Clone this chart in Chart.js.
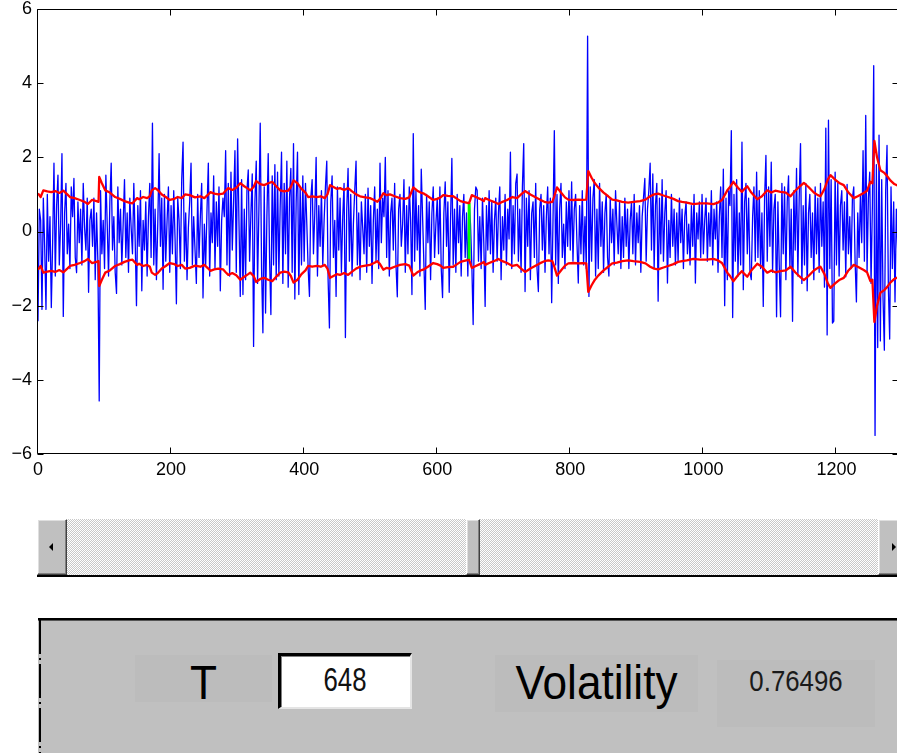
<!DOCTYPE html>
<html>
<head>
<meta charset="utf-8">
<script src="https://cdn.jsdelivr.net/npm/chart.js@4.4.0/dist/chart.umd.min.js"></script>
<style>
  html, body { margin:0; padding:0; width:897px; height:753px; overflow:hidden; background:#fff; }
  #wrap { position:absolute; left:0; top:0; width:897px; height:753px; overflow:hidden; }
  #plot { position:absolute; left:0; top:0; }
  .abs { position:absolute; box-sizing:border-box; }
  #scroll { left:37px; top:519px; width:880px; height:58px;
    background: repeating-conic-gradient(#c8c8c8 0 25%, #ffffff 0 50%) 0 0 / 2px 2px;
    border-bottom:2px solid #000; }
  .btn { position:absolute; top:0; height:56px; background:#c0c0c0;
    border-top:1px solid #fff; border-left:1px solid #fff; border-right:1px solid #404040; border-bottom:1px solid #404040;
    box-sizing:border-box; box-shadow: inset -1px -1px 0 #808080, inset 1px 1px 0 #dfdfdf; }
  .tri { position:absolute; width:0; height:0; }
  #panel { left:38px; top:618px; width:880px; height:140px; background:#c0c0c0;
    border-top:2px solid #000; box-shadow: inset 0 1px 0 #555; }
  #pleft { left:39px; top:620px; width:2px; height:133px;
    background: repeating-linear-gradient(to bottom, #000 0 34px, transparent 34px 38px, #000 38px 40px, transparent 40px 44px); }
  .lbox { background:#bcbcbc; }
  .txt { position:absolute; white-space:nowrap; font-family:"Liberation Sans", Arial, sans-serif; color:#000; }
</style>
</head>
<body>
<div id="wrap">
  <canvas id="plot" width="910" height="490"></canvas>

  <div id="scroll" class="abs">
    <div class="btn" style="left:0; width:30px;"><div class="tri" style="left:11px; top:23px; border-top:4px solid transparent; border-bottom:4px solid transparent; border-right:4px solid #000;"></div></div>
    <div class="btn" style="left:429px; width:14px;"></div>
    <div class="btn" style="left:841px; width:30px;"><div class="tri" style="left:13px; top:23px; border-top:4px solid transparent; border-bottom:4px solid transparent; border-left:4px solid #000;"></div></div>
  </div>

  <div id="panel" class="abs"></div>
  <div id="pleft" class="abs"></div>

  <div class="abs lbox" style="left:135px; top:655px; width:137px; height:47px;"></div>
  <div class="txt" id="tLabel" style="left:135px; width:137px; text-align:center; top:659px; font-size:48px; line-height:48px; transform:scaleX(0.92);">T</div>

  <div class="abs" style="left:278px; top:653px; width:134px; height:56px; background:#fff;
       border-top:3px solid #000; border-left:3px solid #000; border-right:2px solid #e4e4e4; border-bottom:2px solid #e4e4e4;
       box-shadow: inset 1px 1px 0 #808080;"></div>
  <div class="txt" id="tValue" style="left:278px; width:134px; text-align:center; top:663px; font-size:33px; line-height:33px; color:#111; transform:scaleX(0.78);"></div>

  <div class="abs lbox" style="left:495px; top:655px; width:203px; height:57px;"></div>
  <div class="txt" style="left:495px; width:203px; text-align:center; top:659px; font-size:48px; line-height:48px; transform:scaleX(0.92);">Volatility</div>

  <div class="abs lbox" style="left:717px; top:660px; width:158px; height:67px;"></div>
  <div class="txt" id="volValue" style="left:717px; width:158px; text-align:center; top:666px; font-size:30px; line-height:30px; color:#1a1a1a; transform:scaleX(0.86);"></div>
</div>

<script>
// ---------------- data ----------------
const tStep = 2;               // sample spacing of the return series
const returns = [
 -2.42,0.6,0.3,-2.1,0.9,-0.4,-2.1,1.0,-0.8,0.4,-2.05,-0.3,1.84,-1.2,0.7,1.52,-0.9,0.2,2.1,-2.29,
 0.5,1.3,-0.6,0.2,-1.0,1.2,0.4,1.43,-0.7,-1.11,0.8,-0.3,0.6,-0.9,1.3,0.1,-0.5,0.9,-1.64,0.3,
 0.6,-0.4,0.9,-1.3,0.5,-0.8,-4.57,1.1,-0.6,0.3,-1.0,1.52,0.2,-1.2,0.8,1.84,-0.5,0.4,-1.1,-1.67,
 1.2,-0.3,0.6,-0.9,0.2,1.4,-0.7,0.5,-1.1,0.9,0.1,-0.6,1.3,-0.2,-2.0,0.7,-0.4,1.1,-1.6,0.3,
 -0.5,0.8,-1.2,0.4,1.3,-0.7,2.92,-0.9,0.6,-1.3,0.2,2.1,-0.4,0.9,-1.56,1.0,-0.8,0.3,1.2,-1.1,
 0.7,-0.6,1.1,-0.2,-1.95,0.9,0.3,-1.0,1.4,2.41,-0.8,0.5,-1.3,0.1,0.8,1.84,-0.9,0.4,-0.5,-1.4,
 1.0,-0.7,0.4,1.3,-1.79,0.2,-0.9,0.6,1.84,-1.2,0.5,-0.3,1.5,-1.0,0.8,-0.4,1.2,-1.6,0.3,0.9,
 0.4,2.18,-0.9,1.3,-1.2,1.6,-0.5,0.8,2.18,-1.1,2.5,0.3,-1.75,1.4,-1.7,0.6,-1.3,1.1,1.66,-0.8,
 0.5,1.55,-3.1,0.8,1.9,-1.4,0.6,2.92,-1.0,-2.73,1.2,-2.2,0.4,2.1,-0.7,-2.24,1.5,-0.9,1.8,-1.3,
 1.6,-1.2,0.7,2.14,-1.4,1.3,-0.6,1.9,-1.5,0.9,1.7,-1.1,2.37,-1.82,0.8,2.14,-1.7,1.2,-0.9,1.5,
 -0.8,1.3,0.2,-1.0,-1.75,0.9,1.4,-0.6,0.5,2.0,-1.2,0.7,-0.4,1.1,-0.9,0.3,1.2,1.9,-1.3,-2.6,
 0.8,1.5,-0.7,0.3,-1.75,1.2,-0.5,0.9,-1.1,0.4,1.3,-2.86,0.6,1.7,-0.8,1.0,-1.2,0.2,1.1,1.9,
 -0.9,0.5,-1.3,0.8,0.1,-0.6,1.0,-1.1,1.17,-0.4,0.7,-1.4,0.3,1.2,-0.8,0.6,-1.0,1.84,-0.3,0.9,
 0.4,2.0,-0.7,1.1,-1.2,0.5,0.9,-0.5,1.3,-0.9,-1.76,0.6,1.0,-0.4,0.2,1.4,-1.1,0.7,-0.6,1.2,
 0.3,-1.7,2.64,-0.8,1.1,-0.5,0.7,-1.2,1.68,0.4,-0.9,-2.1,1.0,-0.3,0.8,-1.3,0.5,1.2,-0.7,0.2,
 0.9,-0.6,1.2,-1.0,-1.78,0.5,1.34,-0.4,0.8,-1.64,0.3,1.97,-0.9,0.6,-1.1,1.0,-0.3,0.7,-1.2,0.4,
 1.0,-0.7,0.5,-1.2,0.8,0.2,-0.9,-2.51,0.6,1.2,1.11,-0.8,0.4,-1.0,0.9,-0.3,-2.02,0.7,-0.5,1.1,
 -0.6,0.8,-1.1,0.3,0.9,-0.8,0.5,1.2,-1.3,0.4,-0.5,1.0,-0.9,0.6,-0.2,2.14,-1.0,0.7,-0.6,1.3,
 1.55,-0.8,0.6,-1.1,1.2,2.37,-1.62,0.9,-0.4,1.1,-1.3,0.5,0.8,-0.7,1.3,-1.0,-1.62,0.6,1.0,-0.5,
 0.7,-1.1,0.4,1.2,-0.6,0.9,-1.92,0.3,2.72,-0.9,1.0,-1.4,0.6,1.3,-0.7,0.2,-1.0,0.8,-0.4,1.1,
 -0.5,1.34,-0.8,0.6,1.0,-0.3,-1.39,0.7,-0.6,1.1,-0.9,0.4,-1.0,5.27,-1.75,1.2,-0.8,0.9,1.4,-1.2,
 0.6,-1.0,1.3,-0.4,0.8,-1.1,0.5,1.0,-0.7,-1.2,0.9,-0.3,0.6,-0.9,1.1,0.2,-0.6,0.8,-1.0,0.4,
 -0.7,0.9,-0.4,0.6,-1.0,0.3,0.8,-0.6,1.0,-0.9,0.5,-0.3,0.7,-1.1,0.4,0.9,1.43,-0.8,0.6,1.1,
 1.84,-0.5,1.55,-1.0,0.7,1.3,-1.88,0.9,-0.6,1.4,-0.8,0.5,1.1,-1.39,0.3,-0.7,1.0,-0.4,0.6,-0.9,
 0.5,-0.8,0.9,-0.3,0.6,-1.0,0.4,0.8,-0.6,0.2,-0.9,0.7,-0.4,1.0,-1.39,0.5,-0.2,0.8,-0.7,1.0,
 -0.6,0.3,0.9,-0.8,0.5,-0.4,1.1,-0.9,0.6,-0.2,0.8,-1.1,0.4,1.2,-0.7,1.68,-2.0,0.9,-1.3,1.1,
 0.7,2.72,-2.32,1.0,-0.8,1.4,-1.2,0.5,-0.9,2.41,-1.57,0.8,1.3,-0.6,0.9,-1.1,-1.3,0.4,1.2,-0.8,
 1.6,-0.7,1.1,-1.0,0.5,-2.02,0.9,2.05,-0.8,1.2,-0.4,1.87,-1.1,0.6,1.0,-2.3,0.8,-0.9,-2.3,1.3,
 -0.6,1.2,-1.3,0.8,1.5,-1.0,0.6,-2.42,1.1,-0.5,1.7,-1.2,0.9,2.37,-1.4,0.7,-0.9,1.3,-1.6,0.5,
 1.0,-0.7,0.5,-1.3,1.2,-0.6,0.9,-1.1,1.3,-0.4,0.8,-1.5,2.79,-2.79,3.0,-1.0,1.4,-2.47,-2.42,1.6,
 -0.9,1.3,-1.2,0.7,1.1,-0.5,0.8,-1.22,1.27,-0.6,0.4,-1.0,0.9,1.2,-0.8,-1.9,0.5,-0.7,1.0,-0.3,
 2.18,-0.8,3.13,-1.1,0.9,1.6,-1.4,0.7,4.47,-5.5,1.8,-3.13,2.6,-2.95,1.4,-1.8,-3.2,1.1,2.32,-1.5,
 -2.9,1.2,-1.0,0.8,-1.9,0.6,-0.5
];

const volX = [0,4,8,14,20,26,32,38,44,48,55,63,70,75,81,88,91,92,96,101,108,116,123,130,138,142,149,152,158,164,168,171,176,180,186,192,198,205,210,216,221,228,236,244,250,256,259,265,271,278,282,286,292,298,304,310,316,319,324,328,334,340,346,352,358,364,370,376,380,384,390,396,402,406,412,419,425,431,435,439,444,449,454,460,466,472,478,484,490,499,505,510,514,519,524,529,536,544,552,558,564,570,575,579,586,594,600,605,609,616,624,630,635,639,647,648,652,658,664,670,672,678,685,692,698,705,713,720,726,732,740,747,754,761,767,773,776,780,786,792,797,805,812,818,824,825,827,832,837,842,850,857,863,870,878,887,895,905,913,920,926,932,940,947,955,962,968,975,985,995,1005,1015,1022,1028,1036,1040,1045,1052,1058,1062,1066,1072,1081,1088,1096,1102,1108,1116,1124,1131,1138,1145,1151,1158,1166,1172,1176,1182,1187,1191,1198,1205,1211,1218,1226,1232,1241,1246,1251,1254,1257,1261,1266,1272,1276,1281,1287,1294];
const volY = [1.03,0.93,1.11,1.08,1.06,1.09,1.04,1.1,1.0,0.93,0.9,0.85,0.8,0.74,0.85,0.82,0.8,1.47,1.3,1.11,1.05,0.93,0.88,0.82,0.77,0.76,0.9,0.87,0.93,0.9,0.95,1.11,1.17,1.12,1.0,0.93,0.85,0.88,0.93,0.9,1.0,0.98,0.92,0.95,0.9,1.0,1.06,1.02,1.0,1.02,1.1,1.17,1.12,1.18,1.3,1.22,1.15,1.11,1.2,1.36,1.28,1.25,1.3,1.34,1.22,1.11,1.08,1.1,1.2,1.38,1.3,1.15,1.05,0.93,0.95,0.93,0.95,0.9,1.0,1.25,1.2,1.15,1.17,1.12,1.17,1.08,1.0,0.95,0.93,0.9,0.85,0.8,0.88,1.03,0.98,1.0,0.95,0.9,0.88,0.92,1.19,1.1,1.05,1.03,0.95,0.85,0.88,0.92,0.98,0.96,0.95,0.88,0.82,0.8,0.765,0.765,0.98,0.93,0.88,0.82,0.9,0.85,0.8,0.74,0.8,0.85,0.93,0.9,1.0,1.09,1.0,0.93,0.86,0.8,0.78,0.8,0.95,1.19,1.05,0.92,0.86,0.85,0.86,0.85,0.86,0.86,1.63,1.45,1.3,1.19,1.05,0.95,0.86,0.84,0.8,0.78,0.8,0.82,0.86,0.95,1.0,1.02,0.97,0.93,0.88,0.82,0.8,0.78,0.74,0.76,0.76,0.74,0.78,0.85,1.11,1.2,1.34,1.18,1.07,1.15,1.22,1.05,0.87,0.95,1.11,1.05,1.1,1.07,1.05,0.95,1.1,1.22,1.31,1.2,1.05,0.98,0.95,1.15,1.4,1.52,1.4,1.3,1.25,1.05,0.9,0.95,1.04,1.1,1.34,1.3,2.44,2.0,1.65,1.58,1.5,1.38,1.28,1.22];

const markerT = 648;
const markerVol = 0.76496;

const xMin = 0, xMax = 1294;
const yMin = -6, yMax = 6;
const xTicks = [0, 200, 400, 600, 800, 1000, 1200];
const yTicks = [-6, -4, -2, 0, 2, 4, 6];

// ---------------- text ----------------
document.getElementById('tValue').textContent = String(markerT);
document.getElementById('volValue').textContent = String(markerVol);

// ---------------- chart ----------------
const fmt = v => (v < 0 ? '\u2212' + Math.abs(v) : String(v));

const frame = {
  id: 'frame',
  afterDraw(chart) {
    const { ctx, chartArea: a, scales: { x, y } } = chart;
    ctx.save();
    ctx.strokeStyle = '#000';
    ctx.lineWidth = 1;
    const L = Math.round(a.left) - 0.5, R = Math.round(a.right) - 0.5;
    const T = Math.round(a.top) + 0.5, B = Math.round(a.bottom) - 0.5;
    ctx.beginPath();
    ctx.moveTo(L, T); ctx.lineTo(R, T); ctx.lineTo(R, B); ctx.lineTo(L, B); ctx.closePath();
    ctx.stroke();
    const len = 6;
    ctx.beginPath();
    x.ticks.forEach(t => {
      const px = Math.round(x.getPixelForValue(t.value)) - 0.5;
      ctx.moveTo(px, B); ctx.lineTo(px, B - len);
      ctx.moveTo(px, T); ctx.lineTo(px, T + len);
    });
    y.ticks.forEach(t => {
      const py = Math.round(y.getPixelForValue(t.value)) + 0.5;
      ctx.moveTo(L, py); ctx.lineTo(L + len, py);
      ctx.moveTo(R, py); ctx.lineTo(R - len, py);
    });
    ctx.stroke();
    ctx.restore();
  }
};

const tickFont = { family: '"Liberation Sans", Arial, sans-serif', size: 18 };

new Chart(document.getElementById('plot'), {
  type: 'line',
  data: {
    datasets: [
      { label: 'upper', data: volX.map((v, i) => ({ x: v, y: volY[i] })),
        borderColor: '#ff0000', borderWidth: 2.3, order: 1 },
      { label: 'lower', data: volX.map((v, i) => ({ x: v, y: -volY[i] })),
        borderColor: '#ff0000', borderWidth: 2.3, order: 1 },
      { label: 'marker', data: [{ x: markerT, y: -markerVol }, { x: markerT, y: markerVol }],
        borderColor: '#00ff00', borderWidth: 3, order: 2 },
      { label: 'returns', data: returns.map((v, i) => ({ x: i * tStep, y: v })),
        borderColor: '#0000ff', borderWidth: 1.3, order: 3 }
    ]
  },
  options: {
    responsive: false,
    animation: false,
    parsing: false,
    normalized: true,
    events: [],
    elements: { point: { radius: 0 }, line: { tension: 0, fill: false, borderJoinStyle: 'round' } },
    plugins: { legend: { display: false }, tooltip: { enabled: false } },
    layout: { padding: { top: 9, left: 0, right: 11, bottom: 0 } },
    scales: {
      x: {
        type: 'linear', min: xMin, max: xMax,
        afterBuildTicks: s => { s.ticks = xTicks.map(v => ({ value: v })); },
        afterFit: s => { s.height = 36; s.paddingLeft = 0; s.paddingRight = 0; },
        ticks: { color: '#000', font: tickFont, padding: 5, maxRotation: 0, autoSkip: false, callback: fmt },
        grid: { display: false, drawTicks: false },
        border: { display: false }
      },
      y: {
        type: 'linear', min: yMin, max: yMax,
        afterBuildTicks: s => { s.ticks = yTicks.map(v => ({ value: v })); },
        afterFit: s => { s.width = 38; s.paddingTop = 0; s.paddingBottom = 0; },
        ticks: { color: '#000', font: tickFont, padding: 6, autoSkip: false, callback: fmt },
        grid: { display: false, drawTicks: false },
        border: { display: false }
      }
    }
  },
  plugins: [frame]
});
</script>
</body>
</html>
